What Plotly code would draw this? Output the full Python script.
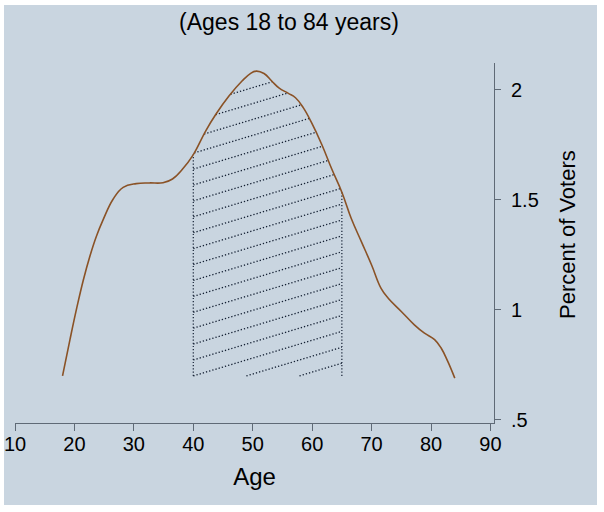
import numpy as np
import plotly.graph_objects as go

# Kernel density of voter ages
ages = [18.0, 19.25, 20.4, 21.5, 22.6, 23.7, 24.8, 26.5, 28.2, 30.4, 32.6, 34.9,
        36.5, 38.2, 39.9, 42.1, 43.8, 46.0, 48.2, 49.6, 50.6, 51.9, 53.2, 54.4,
        56.0, 57.2, 58.5, 59.9, 61.6, 63.3, 65.0, 66.6, 68.3, 70.0, 71.6, 72.8,
        75.0, 77.2, 78.9, 80.6, 81.7, 82.8, 84.0]
density = [0.70, 0.865, 1.01, 1.136, 1.244, 1.335, 1.408, 1.503, 1.557, 1.574, 1.577, 1.578,
           1.595, 1.64, 1.701, 1.814, 1.889, 1.972, 2.04, 2.074, 2.085, 2.074, 2.04, 2.009,
           1.984, 1.964, 1.919, 1.851, 1.753, 1.64, 1.535, 1.414, 1.309, 1.204, 1.098, 1.053,
           0.993, 0.932, 0.894, 0.865, 0.827, 0.767, 0.69]

shade_from, shade_to = 40, 65
shade_base = 0.7
x_ticks = [10, 20, 30, 40, 50, 60, 70, 80, 90]
y_ticks = [0.5, 1, 1.5, 2]
y_tick_text = [".5", "1", "1.5", "2"]

BG = "#c9d5e0"
LINE = "#8a5226"
HATCH = "#142033"
AXIS = "#5f6a76"
FONT = "Liberation Sans, Arial, sans-serif"

# plot area in pixels
L, R, T, B = 15, 494, 63, 423
W, H = R - L, B - T


def curve(x):
    return np.interp(x, ages, density)


fig = go.Figure()

# hatch lines inside the shaded age band (clipped to the density curve)
slope, gap = 0.0081, 0.0723
xs = np.linspace(shade_from, shade_to, 1501)
top = curve(xs)
for k in range(-4, 25):
    ys = shade_base + k * gap + slope * (xs - shade_from)
    ok = (ys >= shade_base) & (ys <= top)
    if not ok.any():
        continue
    fig.add_trace(go.Scatter(
        x=xs, y=np.where(ok, ys, np.nan), mode="lines",
        line=dict(color=HATCH, width=1.3, dash="1.3px,2px"),
        connectgaps=False, hoverinfo="skip", showlegend=False))

for edge in (shade_from, shade_to):
    fig.add_trace(go.Scatter(
        x=[edge, edge], y=[shade_base, float(curve(edge))], mode="lines",
        line=dict(color=HATCH, width=1.2, dash="1.2px,2px"),
        hoverinfo="skip", showlegend=False))

fig.add_trace(go.Scatter(
    x=ages, y=density, mode="lines",
    line=dict(color=LINE, width=1.6, shape="spline", smoothing=1.2),
    showlegend=False))

fig.add_shape(type="rect", xref="paper", yref="paper",
              x0=(4 - L) / W, x1=(597 - L) / W, y0=(B - 505) / H, y1=(B - 5) / H,
              fillcolor=BG, line=dict(width=0), layer="below")

fig.update_layout(
    width=604, height=512,
    margin=dict(l=L, r=604 - R, t=T, b=512 - B, autoexpand=False),
    paper_bgcolor="white", plot_bgcolor=BG,
    font=dict(family=FONT, color="black", size=20),
    title=dict(text="(Ages 18 to 84 years)", x=289 / 604, xanchor="center",
               y=1 - 22 / 512, yanchor="middle", yref="container",
               font=dict(size=23, color="black")),
    xaxis=dict(range=[10, 90.6], tickvals=x_ticks, showgrid=False, zeroline=False,
               showline=True, linecolor=AXIS, linewidth=1, automargin=False,
               ticks="outside", ticklen=7, tickcolor=AXIS,
               tickfont=dict(size=20), ticklabelstandoff=-4,
               title=dict(text="Age", font=dict(size=24), standoff=14)),
    yaxis=dict(range=[0.486, 2.122], side="right", tickvals=y_ticks, ticktext=y_tick_text,
               showgrid=False, zeroline=False, automargin=False,
               showline=True, linecolor=AXIS, linewidth=1,
               ticks="outside", ticklen=6, tickcolor=AXIS,
               tickfont=dict(size=20), ticklabelstandoff=6),
    annotations=[dict(text="Percent of Voters", textangle=-90, xref="paper", yref="paper",
                      x=(567 - L) / W, y=(B - 235) / H, showarrow=False,
                      xanchor="center", yanchor="middle", font=dict(size=22))],
)

fig.write_html("out.html", config={"displayModeBar": False},
               post_script="document.body.style.margin='0';")
